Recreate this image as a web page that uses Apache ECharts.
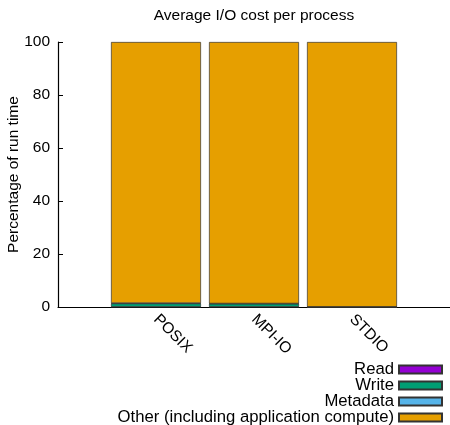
<!DOCTYPE html>
<html><head><meta charset="utf-8">
<script src="https://cdn.jsdelivr.net/npm/echarts@6/dist/echarts.min.js"></script>
<style>html,body{margin:0;padding:0;background:#fff}#c{width:450px;height:425px}</style>
</head><body><div id="c"></div>
<script>
const categories = ['', 'POSIX', 'MPI-IO', 'STDIO', ''];
const readVals = [null, 0.05, 0.05, 0.0, null];
const writeVals = [null, 1.3, 1.2, 0.0, null];
const metaVals = [null, 0.1, 0.05, 0.05, null];
const otherVals = [null, 98.55, 98.7, 99.95, null];
const yTicks = [0, 20, 40, 60, 80, 100];
const seriesNames = ['Read', 'Write', 'Metadata', 'Other (including application compute)'];
const colors = ['#9400d3', '#009e73', '#56b4e9', '#e69f00'];
const font = 'Liberation Sans, Arial, sans-serif';

const chart = echarts.init(document.getElementById('c'), null, {renderer: 'canvas'});
const mk = (name, data, color) => ({
  name, type: 'bar', stack: 'all', data, barWidth: 90,
  itemStyle: {color, borderColor: '#333', borderWidth: 0.7},
  emphasis: {disabled: true}
});
chart.setOption({
  animation: false,
  title: {text: 'Average I/O cost per process', left: 254, textAlign: 'center', top: 8, padding: 0,
    textStyle: {fontFamily: font, fontSize: 15.5, fontWeight: 'normal', color: '#000'}},
  grid: {left: 58, right: 0, top: 42, bottom: 118, containLabel: false, outerBoundsMode: 'none'},
  legend: {
    data: seriesNames, orient: 'vertical', right: 7, bottom: -1, align: 'right', padding: 0,
    itemWidth: 43, itemHeight: 8, itemGap: -1, icon: 'rect',
    textStyle: {fontFamily: font, fontSize: 16.7, color: '#000', lineHeight: 15}
  },
  xAxis: {
    type: 'category', data: categories, boundaryGap: false,
    axisLine: {lineStyle: {color: '#000', width: 1.2}},
    axisTick: {show: false},
    axisLabel: {rotate: -45, fontFamily: font, fontSize: 15.5, color: '#000', margin: 10, interval: 0}
  },
  yAxis: {
    type: 'value', min: 0, max: 100, interval: 20,
    name: 'Percentage of run time', nameLocation: 'middle', nameGap: 36, nameMoveOverlap: false,
    nameTextStyle: {fontFamily: font, fontSize: 15.5, color: '#000'},
    axisLine: {show: true, lineStyle: {color: '#000', width: 1.2}},
    axisTick: {show: true, inside: true, length: 5, lineStyle: {color: '#000'}},
    splitLine: {show: false},
    axisLabel: {fontFamily: font, fontSize: 15.5, color: '#000', margin: 8,
      formatter: v => yTicks.includes(v) ? String(v) : ''}
  },
  series: [
    mk(seriesNames[0], readVals, colors[0]),
    mk(seriesNames[1], writeVals, colors[1]),
    mk(seriesNames[2], metaVals, colors[2]),
    mk(seriesNames[3], otherVals, colors[3])
  ]
});
</script></body></html>
